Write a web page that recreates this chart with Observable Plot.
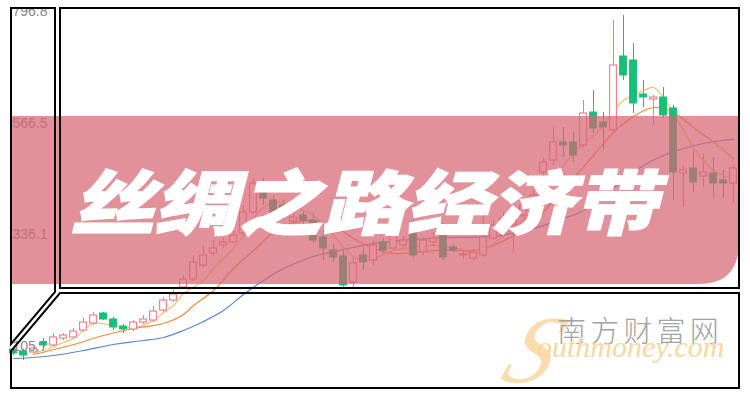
<!DOCTYPE html>
<html><head><meta charset="utf-8">
<script src="https://cdn.jsdelivr.net/npm/d3@7"></script>
<script src="https://cdn.jsdelivr.net/npm/@observablehq/plot@0.6"></script>
<style>
html,body{margin:0;padding:0;background:#fff;}
#chart{width:750px;height:400px;position:relative;overflow:hidden;}
</style></head><body><div id="chart"></div>
<script>
// ---- data ----
const opens = [99.5,95.4,93.4,114.0,107.8,122.2,124.3,138.7,153.2,173.8,
161.4,146.9,140.8,155.2,159.3,180.0,200.6,227.5,243.9,272.8,
297.6,314.1,320.3,338.8,382.1,437.8,406.9,396.6,363.6,376.0,
365.6,330.6,303.7,291.4,237.8,293.4,283.1,320.3,307.9,314.1,
361.5,299.6,320.3,345.0,310.0,293.4,287.2,293.4,328.5,345.0,
355.3,376.0,396.6,464.7,489.4,526.6,526.6,520.4,588.4,567.8,
551.3,704.0,695.7,625.6,615.3,619.4,596.7,462.6,472.9,456.4,
462.6,448.2,442.0];
const closes = [91.3,87.1,101.6,107.8,124.3,128.4,136.6,155.2,169.7,161.4,
144.9,140.8,155.2,161.4,177.9,200.6,213.0,243.9,279.0,293.4,
307.9,320.3,334.7,382.1,442.0,411.0,380.1,376.0,371.8,365.6,
324.4,307.9,289.3,231.6,276.9,279.0,314.1,303.7,334.7,324.4,
293.4,324.4,328.5,289.3,303.7,295.5,299.6,330.6,355.3,369.8,
382.1,396.6,417.2,485.3,526.6,520.4,499.7,586.4,555.4,557.5,
685.4,664.8,607.0,619.4,619.4,582.3,464.7,468.8,444.0,464.7,
442.0,442.0,472.9];
const highs = [103.6,99.5,103.6,122.2,132.5,132.5,142.8,163.5,175.9,175.9,
165.5,151.1,159.3,169.7,188.2,206.8,221.2,252.2,293.4,314.1,
324.4,328.5,349.1,396.6,452.3,452.3,417.2,406.9,380.1,386.3,
382.1,345.0,316.1,303.7,287.2,310.0,324.4,328.5,340.9,332.6,
369.8,330.6,340.9,359.5,316.1,303.7,305.8,380.1,365.6,382.1,
392.5,406.9,427.5,493.5,557.5,557.5,547.2,613.2,633.8,588.4,
778.2,788.6,730.8,654.5,623.5,640.0,603.0,479.1,510.1,503.9,
495.6,468.8,479.1];
const lows = [87.1,76.8,91.3,101.6,103.6,118.1,120.2,134.5,149.0,159.3,
138.7,132.5,136.6,151.1,155.2,175.9,196.5,223.3,239.8,268.7,
291.4,307.9,316.1,332.6,378.0,396.6,369.8,365.6,357.4,357.4,
318.2,283.1,279.0,227.5,225.4,262.5,272.8,297.6,301.7,307.9,
287.2,293.4,312.0,283.1,297.6,285.2,283.1,289.3,324.4,338.8,
297.6,369.8,386.3,448.2,479.1,495.6,485.3,514.2,545.1,510.1,
547.2,654.5,586.4,598.8,561.6,576.1,406.9,392.5,423.4,433.7,
413.1,411.0,400.7];

const ma5Idx = [2,3,5,6,8,10,12,14,15,16,17,19,20,21,22,23,24,25,26,27,28,29,30,31,32,33,34,35,36,37,38,40,42,44,46,47,48,50,52,53,54,55,56,57,58,59,60,61,62,63,64,65,66,67,68,69,70,71,72];
const ma5Val = [93.4,97.5,114.0,122.2,153.2,149.0,144.9,159.3,175.9,190.3,215.1,241.9,266.6,287.2,307.9,334.7,369.8,392.5,402.8,402.8,398.6,386.3,376.0,357.4,334.7,310.0,291.4,283.1,287.2,295.5,303.7,310.0,314.1,310.0,299.6,303.7,318.2,349.1,386.3,415.2,448.2,479.1,503.9,524.5,541.0,561.6,591.3,613.2,623.5,633.8,640.0,619.4,586.4,551.3,516.9,489.4,468.8,458.5,452.3];
const ma10Idx = [2,6,9,12,15,17,18,20,22,24,26,28,30,32,34,36,38,40,42,44,46,48,50,52,54,56,58,60,62,64,66,68,70,72];
const ma10Val = [89.2,109.8,128.4,142.8,153.2,171.7,190.3,221.2,266.6,303.7,340.9,361.5,365.6,355.3,328.5,307.9,297.6,299.6,303.7,303.7,303.7,314.1,334.7,361.5,406.9,452.3,499.7,547.2,580.2,598.8,588.4,557.5,527.3,493.5];
const ma30Idx = [0,2,4,7,10,13,15,17,19,21,23,25,27,30,33,36,40,44,48,52,55,57,59,61,63,65,67,69,71,72];
const ma30Val = [80.9,83.0,87.1,97.5,109.8,118.1,124.3,138.7,157.3,180.0,213.0,241.9,266.6,291.4,305.8,318.2,326.5,330.6,332.6,349.1,369.8,386.3,417.2,448.2,479.1,499.7,514.2,524.5,530.7,532.8];

const yTicks = [796.8, 566.5, 336.1, 105.7];
const titleText = "丝绸之路经济带";
const wmChinese = "南方财富网";
const wmS = "S";
const wmLatin = "outhmoney.com";

// ---- build tables ----
const candles = opens.map((o, i) => ({i, o, c: closes[i], h: highs[i], l: lows[i]}));
const upC = candles.filter(d => d.c >= d.o);
const downC = candles.filter(d => d.c < d.o);
const ma5 = ma5Idx.map((i, k) => ({i, v: ma5Val[k]}));
const ma10 = ma10Idx.map((i, k) => ({i, v: ma10Val[k]}));
const ma30 = ma30Idx.map((i, k) => ({i, v: ma30Val[k]}));

const UP = "#f27a8b", DOWN = "#17bf78";
const hw = 0.34;

const svg = Plot.plot({
  width: 750, height: 400, margin: 0,
  style: {background: "#fff", overflow: "hidden"},
  x: {type: "linear", domain: [0, 72], range: [13, 733], axis: null},
  y: {type: "linear", domain: [105.7, 796.8], range: [346, 11], axis: null},
  marks: [
    Plot.ruleX(upC, {x: "i", y1: "l", y2: "h", stroke: UP, strokeWidth: 1}),
    Plot.ruleX(downC, {x: "i", y1: "l", y2: "h", stroke: DOWN, strokeWidth: 1}),
    Plot.line(ma30, {x: "i", y: "v", stroke: "#5b86d9", strokeWidth: 1.2, curve: "catmull-rom"}),
    Plot.line(ma10, {x: "i", y: "v", stroke: "#f08a3c", strokeWidth: 1.2, curve: "catmull-rom"}),
    Plot.line(ma5, {x: "i", y: "v", stroke: "#f6bd6e", strokeWidth: 1.2, curve: "catmull-rom"}),
    Plot.rect(upC, {x1: d => d.i - hw, x2: d => d.i + hw, y1: "o", y2: "c", fill: "#fff", stroke: UP, strokeWidth: 1.1}),
    Plot.rect(downC, {x1: d => d.i - hw, x2: d => d.i + hw, y1: "o", y2: "c", fill: DOWN, stroke: DOWN, strokeWidth: 1}),
    Plot.text(yTicks, {y: d => d, text: d => d.toFixed(1), frameAnchor: "left", dx: 12, textAnchor: "start",
      fill: "#888", fontSize: 14, fontFamily: "Liberation Sans, Arial, sans-serif"})
  ]
});
document.getElementById("chart").appendChild(svg);

// ---- decorations ----
const s = d3.select(svg);
s.append("rect").attr("x", 0).attr("y", 0).attr("width", 750).attr("height", 7).attr("fill", "#fff");
// translucent banner
s.append("path")
  .attr("d", "M11,116 H739 V242 Q739,284 699,284 H11 Z")
  .attr("fill", "rgb(214,100,114)").attr("fill-opacity", 0.71);
// title
s.append("text")
  .attr("transform", "translate(372,199) scale(1.2,1) skewX(-12)")
  .attr("text-anchor", "middle").attr("dominant-baseline", "central")
  .attr("font-family", "'Noto Sans CJK SC', sans-serif").attr("font-weight", 900)
  .attr("font-size", 70).attr("fill", "#fff").attr("stroke", "#fff").attr("stroke-width", 1.5)
  .text(titleText);
// frame
const frame = s.append("g").attr("fill", "none").attr("stroke", "#000").attr("stroke-width", 2).attr("stroke-linejoin", "miter");
frame.append("path").attr("d", "M11,8 H55 V292 L11,344 Z");
frame.append("path").attr("d", "M60,8 H739 V288 H60 Z");
frame.append("path").attr("d", "M60,293 H739 V388 H11 V351 Z");
// watermark
s.append("text").attr("x", 0).attr("y", 0).attr("text-anchor", "start")
  .attr("transform", "translate(498,382) skewX(-22)")
  .attr("font-family", "'Liberation Serif', serif").attr("font-style", "italic")
  .attr("font-size", 96).attr("fill", "#f9d39a").attr("fill-opacity", 0.8)
  .text(wmS);
s.append("text").attr("x", 557).attr("y", 329).attr("text-anchor", "start").attr("dominant-baseline", "central")
  .attr("font-family", "'Noto Sans CJK SC', sans-serif").attr("font-weight", 300)
  .attr("font-size", 29).attr("letter-spacing", 4.2).attr("fill", "#a3a3a3")
  .text(wmChinese);
s.append("text").attr("x", 537).attr("y", 357).attr("text-anchor", "start")
  .attr("font-family", "'Liberation Serif', serif").attr("font-style", "italic")
  .attr("font-size", 30).attr("fill", "#f7d7a4")
  .text(wmLatin);
</script>
</body></html>
